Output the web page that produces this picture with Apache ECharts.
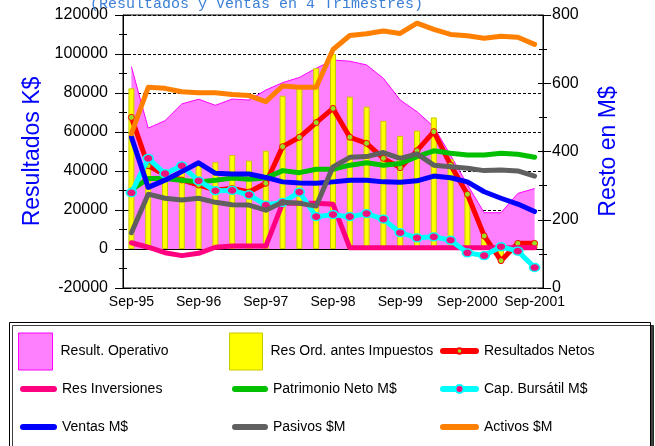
<!DOCTYPE html>
<html>
<head>
<meta charset="utf-8">
<script src="https://cdn.jsdelivr.net/npm/echarts@6/dist/echarts.min.js"></script>
<style>
  html, body { margin: 0; padding: 0; background: #fff; }
  #chart { width: 655px; height: 446px; }
</style>
</head>
<body>
<div id="chart"></div>
<script>
// trimestres Sep-95 .. Sep-2001
var categorias = ['Sep-95', 'Dic-95', 'Mar-96', 'Jun-96', 'Sep-96', 'Dic-96', 'Mar-97', 'Jun-97',
	'Sep-97', 'Dic-97', 'Mar-98', 'Jun-98', 'Sep-98', 'Dic-98', 'Mar-99', 'Jun-99',
	'Sep-99', 'Dic-99', 'Mar-2000', 'Jun-2000', 'Sep-2000', 'Dic-2000', 'Mar-2001', 'Jun-2001', 'Sep-2001'];

// eje izquierdo (K$)
var resultOperativo = [93500, 62000, 65800, 74400, 76800, 73700, 76900, 76400, 81500, 85300, 88000, 92700,
	96900, 96300, 94400, 87500, 76400, 70400, 62700, 48000, 33000, 18600, 18600, 28500, 31000];
var resOrdAntesImp = [82400, 44000, 41000, 43000, 43000, 44500, 48200, 45300, 50400, 78600, 82600, 92700,
	100000, 78100, 73000, 65700, 58000, 60700, 67500, 46000, 27500, 6500, -4500, 2500, 2500];
var resultadosNetos = [67500, 42700, 38000, 35400, 32800, 30300, 31000, 29200, 33700, 52500, 57300, 64800,
	72100, 57300, 54200, 46500, 41700, 50400, 60200, 43100, 28100, 6700, -6000, 2900, 2900];
var resInversiones = [3200, 900, -1900, -3400, -2200, 900, 1500, 1500, 1500, 23400, 23400, 23400,
	23000, 600, 600, 600, 600, 600, 600, 600, 600, 600, 600, 600, 600];

// eje derecho (M$)
var patrimonioNeto = [287, 321, 321, 316, 311, 316, 322, 319, 322, 344, 338, 348,
	348, 360, 367, 360, 365, 385, 402, 395, 390, 390, 395, 392, 383];
var capBursatil = [279, 380, 335, 358, 314, 285, 286, 273, 243, 251, 281, 209,
	215, 209, 218, 202, 162, 147, 150, 140, 103, 95, 121, 108, 60];
var ventas = [442, 295, 316, 341, 367, 336, 334, 334, 324, 311, 308, 307,
	311, 316, 316, 311, 310, 314, 328, 323, 311, 282, 263, 246, 224];
var pasivos = [162, 275, 263, 258, 263, 251, 244, 243, 228, 251, 248, 240,
	355, 383, 385, 397, 380, 393, 360, 355, 351, 344, 346, 343, 328];
var activos = [452, 588, 585, 575, 572, 572, 567, 564, 546, 592, 588, 588,
	699, 740, 745, 753, 746, 776, 758, 743, 739, 732, 738, 735, 714];

var FONT = 'Liberation Sans';

var myChart = echarts.init(document.getElementById('chart'));

// una leyenda por item, para ubicarlas en la grilla de 3x3
function leyenda(nombre, left, centro, w, h, extra) {
	var alto = Math.max(h, 14);
	var item = { name: nombre };
	if (extra) {
		for (var k in extra) item[k] = extra[k];
	}
	return {
		data: [item],
		left: left,
		top: centro - alto / 2,
		padding: 0,
		itemWidth: w,
		itemHeight: h,
		selectedMode: false,
		lineStyle: { width: 6, cap: 'round' },
		textStyle: { fontFamily: FONT, fontSize: 14, color: '#000', padding: [0, 0, 0, 3] }
	};
}

function ejeY(min, max, interval, pos, dup) {
	return {
		type: 'value',
		position: pos,
		min: min,
		max: max,
		interval: interval,
		axisLine: { show: !dup, lineStyle: { color: '#000', width: 1 } },
		axisTick: { show: true, inside: dup, length: dup ? 5 : 8, lineStyle: { color: '#000' } },
		minorTick: { show: true, splitNumber: 2, length: 4, lineStyle: { color: '#000' } },
		axisLabel: {
			show: !dup, fontFamily: FONT, fontSize: 16, color: '#000', margin: pos == 'left' ? 15 : 9,
			formatter: function(v) {
				return String(v);
			}
		},
		splitLine: { show: false }
	};
}

var yIzq = ejeY(-20000, 120000, 20000, 'left', false);
yIzq.splitLine = { show: true, lineStyle: { color: '#000', type: [3, 2], width: 1 } };
yIzq.name = 'Resultados K$';
yIzq.nameLocation = 'middle';
yIzq.nameGap = 64;
yIzq.nameRotate = 90;
yIzq.nameTextStyle = { fontFamily: FONT, fontSize: 23, color: '#0000ff' };

var yDer = ejeY(0, 800, 200, 'right', false);
yDer.name = 'Resto en M$';
yDer.nameLocation = 'middle';
yDer.nameGap = 54;
yDer.nameRotate = 90;
yDer.nameTextStyle = { fontFamily: FONT, fontSize: 23, color: '#0000ff' };

function linea(nombre, datos, color, eje, z) {
	return {
		name: nombre,
		type: 'line',
		yAxisIndex: eje,
		data: datos,
		color: color,
		symbol: 'none',
		showSymbol: false,
		z: z,
		lineStyle: { color: color, width: 5, cap: 'round', join: 'round' }
	};
}

var sNetos = linea('Resultados Netos', resultadosNetos, '#ff0000', 0, 3);
sNetos.symbol = 'circle';
sNetos.showSymbol = true;
sNetos.symbolSize = 6;
sNetos.itemStyle = { color: '#99e020', borderColor: '#ff0000', borderWidth: 1 };

var sCap = linea('Cap. Bursátil M$', capBursatil, '#00ffff', 2, 6);
sCap.symbol = 'circle';
sCap.showSymbol = true;
sCap.symbolSize = [10, 8];
sCap.itemStyle = { color: '#f0127c', borderColor: '#00ffff', borderWidth: 1.5 };

var sinMarca = { itemStyle: { opacity: 0 } };

var option = {
	animation: false,
	title: {
		text: '(Resultados y Ventas en 4 Trimestres)',
		left: 90,
		top: -3,
		padding: 0,
		textStyle: { fontFamily: 'Liberation Mono', fontSize: 15, fontWeight: 'normal', color: '#3a7fd5' }
	},
	grid: {
		left: 123,
		right: 112,
		top: 15,
		bottom: 158,
		show: true,
		borderColor: '#000',
		borderWidth: 1,
		backgroundColor: 'transparent'
	},
	graphic: [ {
		type: 'rect',
		left: 9,
		top: 322,
		z: 0,
		shape: { width: 641, height: 140 },
		style: { fill: '#fff', stroke: '#000', lineWidth: 1, shadowColor: 'rgba(0,0,0,0.75)', shadowOffsetX: 3, shadowOffsetY: 3 }
	} ],
	legend: [
		leyenda('Result. Operativo', 18, 351, 34, 37, { icon: 'rect', itemStyle: { color: '#ff80ff', borderColor: '#ff00ff', borderWidth: 1 } }),
		leyenda('Res Ord. antes Impuestos', 229, 351, 33, 37, { icon: 'rect', itemStyle: { color: '#ffff00', borderColor: '#c8c800', borderWidth: 1 } }),
		leyenda('Resultados Netos', 440, 351, 33, 7),
		leyenda('Res Inversiones', 20, 389, 31, 4, sinMarca),
		leyenda('Patrimonio Neto M$', 232, 389, 30, 4, sinMarca),
		leyenda('Cap. Bursátil M$', 440, 389, 33, 10),
		leyenda('Ventas M$', 20, 427, 31, 4, sinMarca),
		leyenda('Pasivos $M', 232, 427, 30, 4, sinMarca),
		leyenda('Activos $M', 440, 427, 33, 4, sinMarca)
	],
	xAxis: [ {
		type: 'category',
		data: categorias,
		position: 'bottom',
		axisLine: { lineStyle: { color: '#000', width: 1 } },
		axisTick: { interval: 0, length: 6, lineStyle: { color: '#000' } },
		axisLabel: { interval: 3, fontFamily: FONT, fontSize: 14, color: '#000', margin: 7 },
		splitLine: { show: false }
	}, {
		type: 'category',
		data: categorias,
		position: 'bottom',
		axisLine: { show: false },
		axisTick: { interval: 0, inside: true, length: 6, lineStyle: { color: '#000' } },
		axisLabel: { show: false },
		splitLine: { show: false }
	} ],
	yAxis: [ yIzq, ejeY(-20000, 120000, 20000, 'left', true), yDer, ejeY(0, 800, 200, 'right', true) ],
	series: [ {
		name: 'Result. Operativo',
		type: 'line',
		yAxisIndex: 0,
		data: resultOperativo,
		color: '#ff80ff',
		symbol: 'none',
		showSymbol: false,
		z: 1,
		lineStyle: { color: '#ff00ff', width: 1 },
		areaStyle: { color: '#ff80ff', opacity: 1 }
	}, {
		name: 'Res Ord. antes Impuestos',
		type: 'bar',
		yAxisIndex: 0,
		data: resOrdAntesImp,
		barWidth: 6,
		z: 2,
		itemStyle: { color: '#ffff00', borderColor: '#c8c800', borderWidth: 1 }
	},
		sNetos,
		linea('Res Inversiones', resInversiones, '#ff0080', 0, 4),
		linea('Patrimonio Neto M$', patrimonioNeto, '#00c000', 2, 5),
		sCap,
		linea('Ventas M$', ventas, '#0000ff', 2, 7),
		linea('Pasivos $M', pasivos, '#606060', 2, 8),
		linea('Activos $M', activos, '#ff8000', 2, 9)
	]
};
myChart.setOption(option);
</script>
</body>
</html>
